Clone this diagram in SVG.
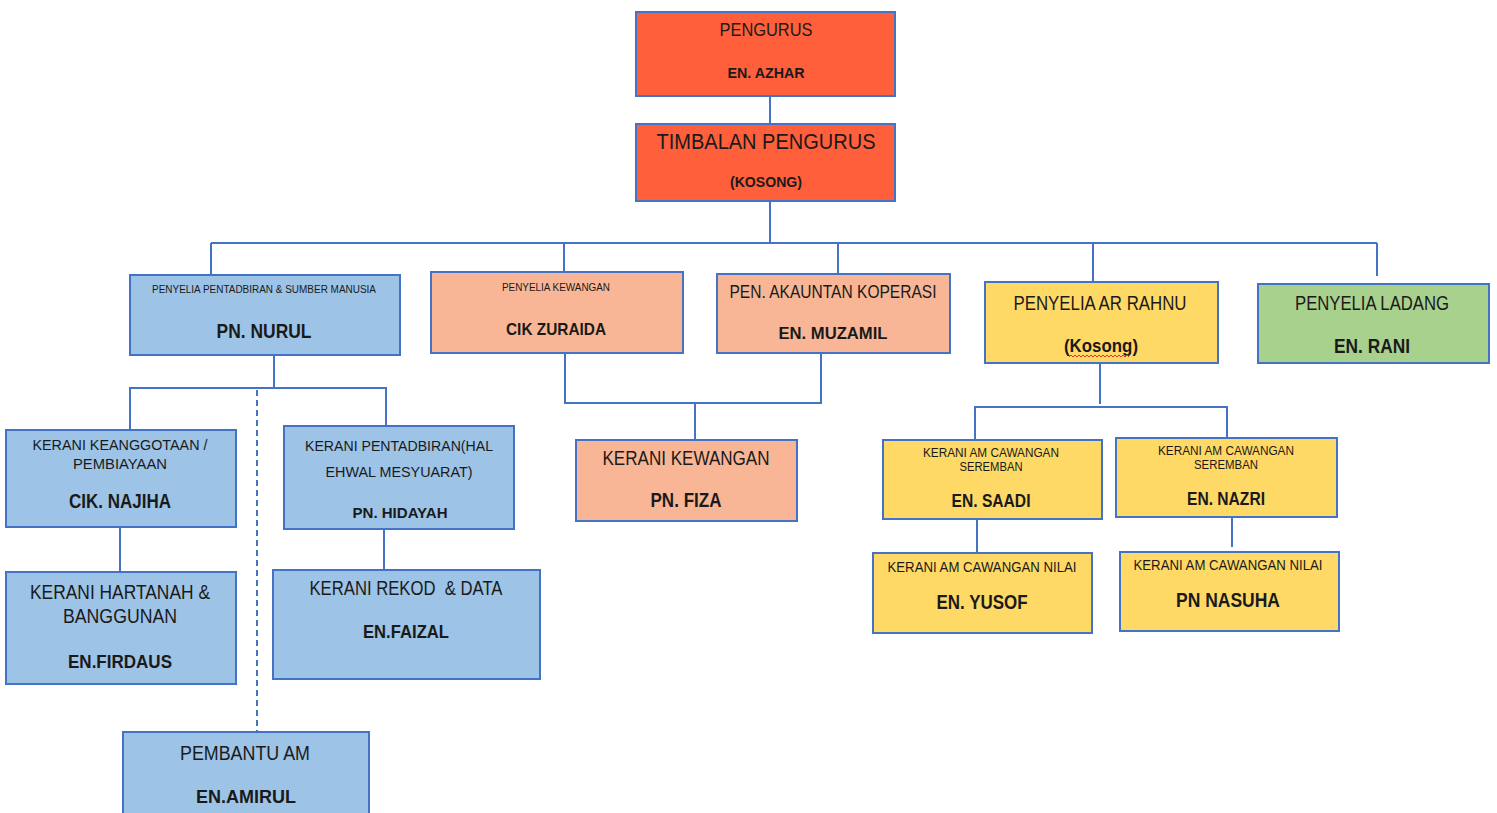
<svg xmlns="http://www.w3.org/2000/svg" width="1497" height="813" viewBox="0 0 1497 813">
<style>
.box{stroke:#4472C4;stroke-width:2}
.red{fill:#FF5F3A}
.blue{fill:#9DC3E6}
.sal{fill:#F8B696}
.yel{fill:#FFD966}
.grn{fill:#A9D18E}
text{font-family:"Liberation Sans",Arial,sans-serif;fill:#1a1a1a;text-anchor:middle}
.b{font-weight:bold}
.con line,.con polyline{stroke:#4472C4;stroke-width:2;fill:none}
.dash{stroke-dasharray:6 4}
</style>
<rect width="1497" height="813" fill="#ffffff"/>
<g class="con">
<line x1="770" y1="96" x2="770" y2="124"/>
<line x1="770" y1="201" x2="770" y2="243"/>
<line x1="211" y1="243" x2="1377" y2="243"/>
<line x1="211" y1="243" x2="211" y2="275"/>
<line x1="564" y1="243" x2="564" y2="272"/>
<line x1="838" y1="243" x2="838" y2="274"/>
<line x1="1093" y1="243" x2="1093" y2="282"/>
<line x1="1377" y1="243" x2="1377" y2="276"/>
<line x1="274" y1="355" x2="274" y2="388"/>
<polyline points="130,430 130,388 386,388 386,426"/>
<line class="dash" x1="257" y1="390" x2="257" y2="732"/>
<line x1="120" y1="527" x2="120" y2="572"/>
<line x1="384" y1="529" x2="384" y2="570"/>
<polyline points="565,353 565,403 821,403 821,353"/>
<line x1="695" y1="403" x2="695" y2="440"/>
<line x1="1100" y1="363" x2="1100" y2="404"/>
<polyline points="975,440 975,407 1227,407 1227,438"/>
<line x1="977" y1="519" x2="977" y2="553"/>
<line x1="1232" y1="517" x2="1232" y2="547"/>
</g>
<g id="pengurus">
<rect class="box red" x="636" y="12" width="259" height="84"/>
<text x="766" y="36" font-size="19" textLength="93" lengthAdjust="spacingAndGlyphs">PENGURUS</text>
<text class="b" x="766" y="78" font-size="14" textLength="77" lengthAdjust="spacingAndGlyphs">EN. AZHAR</text>
</g>
<g id="timbalan">
<rect class="box red" x="636" y="124" width="259" height="77"/>
<text x="766" y="149" font-size="22" textLength="219" lengthAdjust="spacingAndGlyphs">TIMBALAN PENGURUS</text>
<text class="b" x="766" y="187" font-size="14" textLength="72" lengthAdjust="spacingAndGlyphs">(KOSONG)</text>
</g>
<g id="pentadbiran">
<rect class="box blue" x="130" y="275" width="270" height="80"/>
<text x="264" y="293" font-size="10" textLength="224" lengthAdjust="spacingAndGlyphs">PENYELIA PENTADBIRAN &amp; SUMBER MANUSIA</text>
<text class="b" x="264" y="338" font-size="20" textLength="95" lengthAdjust="spacingAndGlyphs">PN. NURUL</text>
</g>
<g id="kewangan">
<rect class="box sal" x="431" y="272" width="252" height="81"/>
<text x="556" y="291" font-size="10" textLength="108" lengthAdjust="spacingAndGlyphs">PENYELIA KEWANGAN</text>
<text class="b" x="556" y="335" font-size="17" textLength="100" lengthAdjust="spacingAndGlyphs">CIK ZURAIDA</text>
</g>
<g id="akauntan">
<rect class="box sal" x="717" y="274" width="233" height="79"/>
<text x="833" y="298" font-size="18" textLength="207" lengthAdjust="spacingAndGlyphs">PEN. AKAUNTAN KOPERASI</text>
<text class="b" x="833" y="339" font-size="17" textLength="109" lengthAdjust="spacingAndGlyphs">EN. MUZAMIL</text>
</g>
<g id="arrahnu">
<rect class="box yel" x="985" y="282" width="233" height="81"/>
<text x="1100" y="310" font-size="20" textLength="173" lengthAdjust="spacingAndGlyphs">PENYELIA AR RAHNU</text>
<text class="b" x="1101" y="352" font-size="18" textLength="74" lengthAdjust="spacingAndGlyphs">(Kosong)</text>
<path d="M1069,357 l2,-2 l2,2 l2,-2 l2,2 l2,-2 l2,2 l2,-2 l2,2 l2,-2 l2,2 l2,-2 l2,2 l2,-2 l2,2 l2,-2 l2,2 l2,-2 l2,2 l2,-2 l2,2 l2,-2 l2,2 l2,-2 l2,2 l2,-2 l2,2 l2,-2 l2,2 l2,-2 l2,2" fill="none" stroke="#e03030" stroke-width="1"/>
</g>
<g id="ladang">
<rect class="box grn" x="1258" y="284" width="231" height="79"/>
<text x="1372" y="310" font-size="20" textLength="154" lengthAdjust="spacingAndGlyphs">PENYELIA LADANG</text>
<text class="b" x="1372" y="353" font-size="20" textLength="76" lengthAdjust="spacingAndGlyphs">EN. RANI</text>
</g>
<g id="keanggotaan">
<rect class="box blue" x="6" y="430" width="230" height="97"/>
<text x="120" y="450" font-size="14" textLength="175" lengthAdjust="spacingAndGlyphs">KERANI KEANGGOTAAN /</text>
<text x="120" y="469" font-size="14" textLength="94" lengthAdjust="spacingAndGlyphs">PEMBIAYAAN</text>
<text class="b" x="120" y="508" font-size="20" textLength="102" lengthAdjust="spacingAndGlyphs">CIK. NAJIHA</text>
</g>
<g id="kpentadbiran">
<rect class="box blue" x="284" y="426" width="230" height="103"/>
<text x="399" y="451" font-size="15" textLength="188" lengthAdjust="spacingAndGlyphs">KERANI PENTADBIRAN(HAL</text>
<text x="399" y="477" font-size="15" textLength="147" lengthAdjust="spacingAndGlyphs">EHWAL MESYUARAT)</text>
<text class="b" x="400" y="518" font-size="15" textLength="95" lengthAdjust="spacingAndGlyphs">PN. HIDAYAH</text>
</g>
<g id="hartanah">
<rect class="box blue" x="6" y="572" width="230" height="112"/>
<text x="120" y="599" font-size="20" textLength="180" lengthAdjust="spacingAndGlyphs">KERANI HARTANAH &amp;</text>
<text x="120" y="623" font-size="20" textLength="114" lengthAdjust="spacingAndGlyphs">BANGGUNAN</text>
<text class="b" x="120" y="668" font-size="19" textLength="104" lengthAdjust="spacingAndGlyphs">EN.FIRDAUS</text>
</g>
<g id="rekod">
<rect class="box blue" x="273" y="570" width="267" height="109"/>
<text x="406" y="595" font-size="20" textLength="193" lengthAdjust="spacingAndGlyphs" xml:space="preserve">KERANI REKOD  &amp; DATA</text>
<text class="b" x="406" y="638" font-size="19" textLength="86" lengthAdjust="spacingAndGlyphs">EN.FAIZAL</text>
</g>
<g id="pembantu">
<rect class="box blue" x="123" y="732" width="246" height="90"/>
<text x="245" y="760" font-size="20" textLength="130" lengthAdjust="spacingAndGlyphs">PEMBANTU AM</text>
<text class="b" x="246" y="803" font-size="19" textLength="100" lengthAdjust="spacingAndGlyphs">EN.AMIRUL</text>
</g>
<g id="kkewangan">
<rect class="box sal" x="576" y="440" width="221" height="81"/>
<text x="686" y="465" font-size="20" textLength="167" lengthAdjust="spacingAndGlyphs">KERANI KEWANGAN</text>
<text class="b" x="686" y="507" font-size="20" textLength="71" lengthAdjust="spacingAndGlyphs">PN. FIZA</text>
</g>
<g id="saadi">
<rect class="box yel" x="883" y="440" width="219" height="79"/>
<text x="991" y="457" font-size="12" textLength="136" lengthAdjust="spacingAndGlyphs">KERANI AM CAWANGAN</text>
<text x="991" y="471" font-size="12" textLength="63" lengthAdjust="spacingAndGlyphs">SEREMBAN</text>
<text class="b" x="991" y="507" font-size="19" textLength="79" lengthAdjust="spacingAndGlyphs">EN. SAADI</text>
</g>
<g id="nazri">
<rect class="box yel" x="1116" y="438" width="221" height="79"/>
<text x="1226" y="455" font-size="12" textLength="136" lengthAdjust="spacingAndGlyphs">KERANI AM CAWANGAN</text>
<text x="1226" y="469" font-size="12" textLength="64" lengthAdjust="spacingAndGlyphs">SEREMBAN</text>
<text class="b" x="1226" y="505" font-size="19" textLength="78" lengthAdjust="spacingAndGlyphs">EN. NAZRI</text>
</g>
<g id="yusof">
<rect class="box yel" x="873" y="553" width="219" height="80"/>
<text x="982" y="572" font-size="14" textLength="189" lengthAdjust="spacingAndGlyphs">KERANI AM CAWANGAN NILAI</text>
<text class="b" x="982" y="609" font-size="21" textLength="91" lengthAdjust="spacingAndGlyphs">EN. YUSOF</text>
</g>
<g id="nasuha">
<rect class="box yel" x="1120" y="552" width="219" height="79"/>
<text x="1228" y="570" font-size="14" textLength="189" lengthAdjust="spacingAndGlyphs">KERANI AM CAWANGAN NILAI</text>
<text class="b" x="1228" y="607" font-size="21" textLength="104" lengthAdjust="spacingAndGlyphs">PN NASUHA</text>
</g>
</svg>
